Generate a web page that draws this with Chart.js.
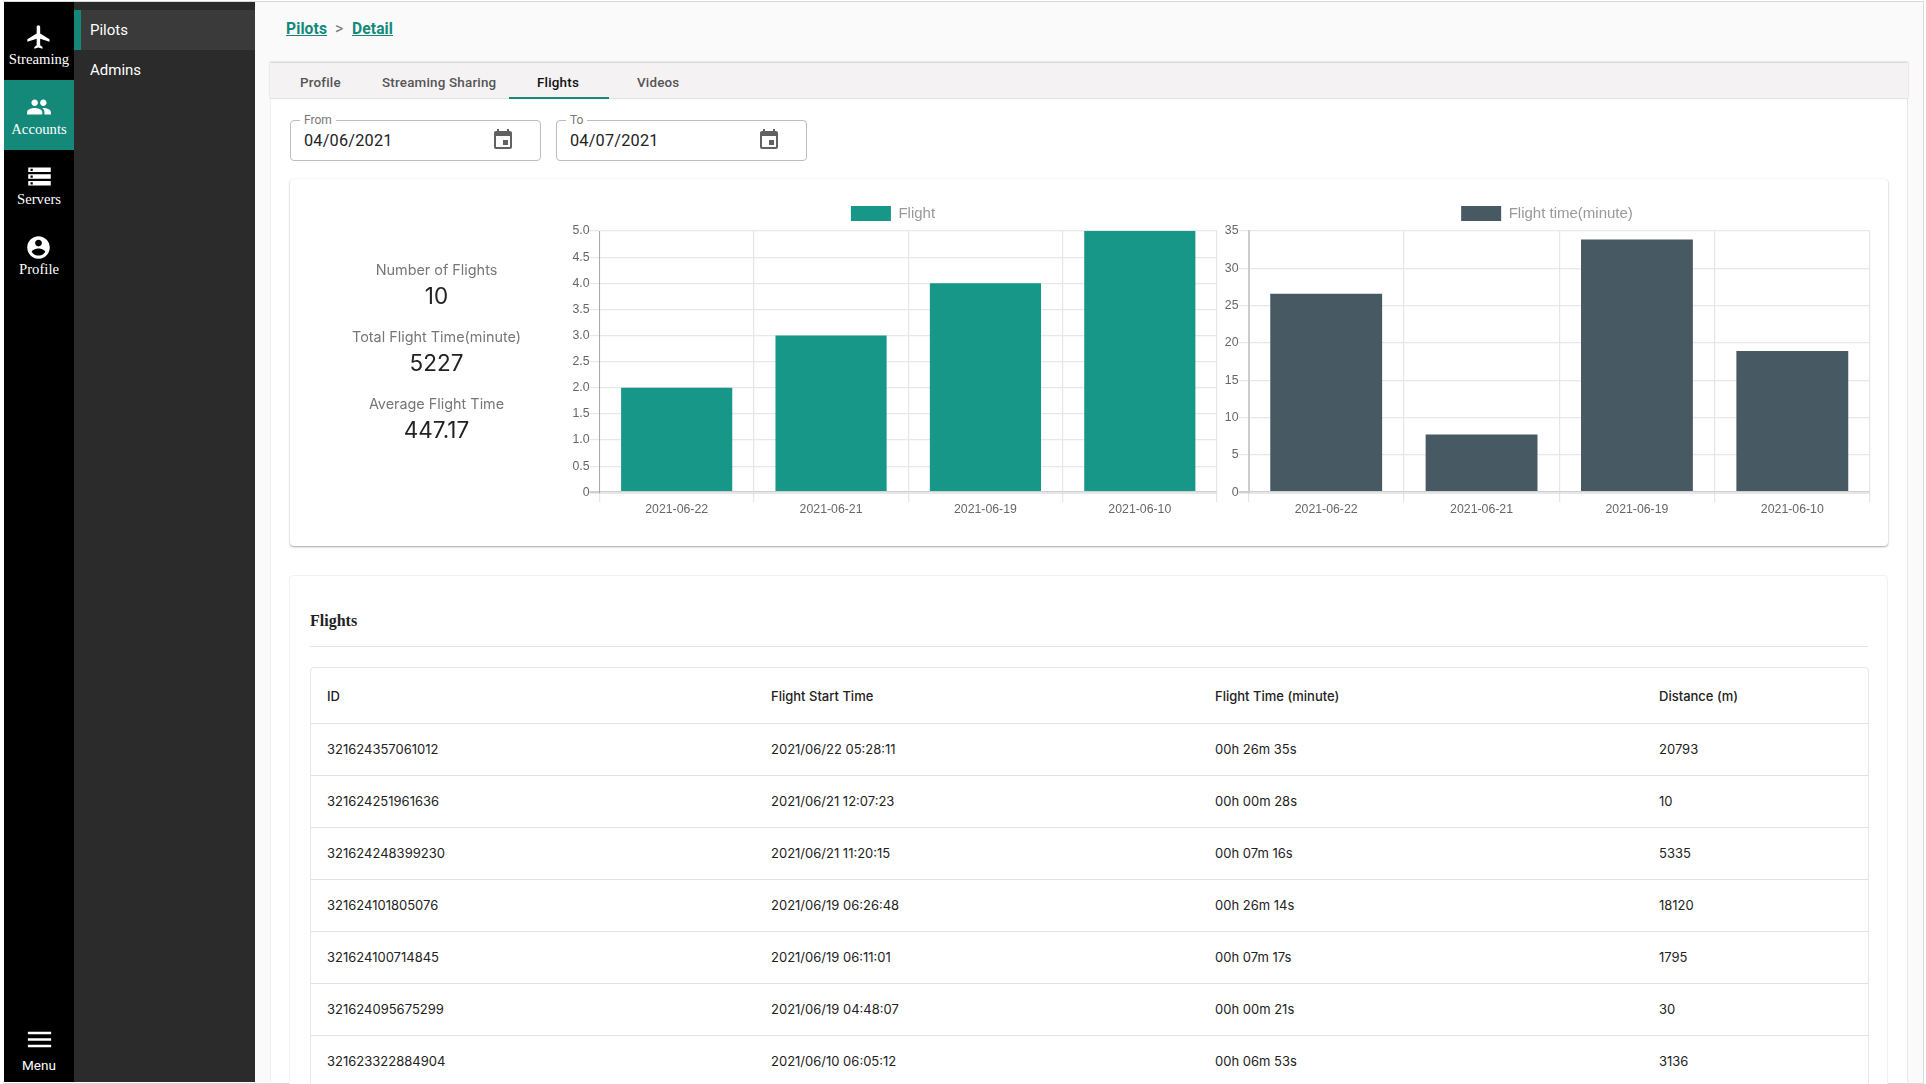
<!DOCTYPE html>
<html>
<head>
<meta charset="utf-8">
<title>Pilot flights</title>
<script src="https://cdn.jsdelivr.net/npm/chart.js@4"></script>
<style>
html, body { margin: 0; padding: 0; width: 1926px; height: 1084px; overflow: hidden; background: #fff; }
body { position: relative; font-family: Roboto, sans-serif; color: #222; }
.abs { position: absolute; white-space: nowrap; }
#page { position: absolute; left: 3px; top: 1px; width: 1920px; height: 1081px; background: #fafafa; border: 1px solid #d8d8d8; border-left: 0; }
#rail { position: absolute; left: 4px; top: 2px; width: 70px; height: 1080px; background: #000; }
#side { position: absolute; left: 74px; top: 2px; width: 181px; height: 1080px; background: #2b2b2b; }
#railActive { position: absolute; left: 4px; top: 80px; width: 70px; height: 70px; background: #14897a; }
#sideActive { position: absolute; left: 74px; top: 10px; width: 181px; height: 40px; background: #3a3a3a; }
#sideBar { position: absolute; left: 74px; top: 10px; width: 7px; height: 40px; background: #14897a; }
.railText { position: absolute; left: 4px; width: 70px; text-align: center; color: #fff; font: 14.7px "Liberation Serif", serif; line-height: 18px; }
.sideText { position: absolute; left: 90px; color: #fff; font: 15px Roboto, sans-serif; line-height: 20px; }
.icon { position: absolute; }
.crumb { color: #14897a; font: 700 15.6px Roboto, sans-serif; text-decoration: underline; line-height: 20px; letter-spacing: .1px; }
#tabbar { position: absolute; left: 270px; top: 63px; width: 1638px; height: 35px; background: #f4f2f3; border-bottom: 1px solid #e2e2e2; box-shadow: 0 -1px 2px rgba(0,0,0,.2); }
#panel { position: absolute; left: 270px; top: 99px; width: 1638px; height: 983px; background: #fff; border-right: 1px solid #e6e6e6; border-left: 1px solid #eee; box-sizing: border-box; }
.tab { font: 500 13.4px Roboto, sans-serif; color: #555; line-height: 18px; letter-spacing: .2px; }
#tabLine { position: absolute; left: 509px; top: 97px; width: 100px; height: 2px; background: #14897a; }
.field { position: absolute; top: 120px; height: 39px; width: 249px; border: 1px solid #bdbdbd; border-radius: 4px; background: #fff; }
.fieldLabel { background: #fff; padding: 0 4px; font: 12px Roboto, sans-serif; color: #777; line-height: 14px; }
.fieldValue { font: 16.3px Roboto, sans-serif; color: #222; line-height: 20px; letter-spacing: .2px; }
#card { position: absolute; left: 290px; top: 179px; width: 1598px; height: 367px; background: #fff; border-radius: 4px; box-shadow: 0 1px 2px rgba(0,0,0,.35), 0 0 2px rgba(0,0,0,.05); }
#card2 { position: absolute; left: 289px; top: 575px; width: 1599px; height: 520px; background: #fff; border: 1px solid #f2f2f2; border-radius: 4px; box-sizing: border-box; }
.statLabel { width: 300px; left: 286.5px; text-align: center; font: 14.4px Inter, sans-serif; color: #777; line-height: 20px; }
.statValue { width: 300px; left: 286.5px; text-align: center; font: 22.5px Inter, sans-serif; color: #222; line-height: 28px; }
#chartOne { position: absolute; left: 564px; top: 198px; }
#chartTwo { position: absolute; left: 1222px; top: 198px; }
#flightsTitle { left: 310px; top: 611px; font: 700 16px "Liberation Serif", serif; line-height: 20px; color: #222; }
#titleRule { position: absolute; left: 310px; top: 646px; width: 1558px; height: 1px; background: #e4e4e4; }
#tableBox { position: absolute; left: 310px; top: 667px; width: 1559px; height: 430px; border: 1px solid #e6e6e6; border-radius: 4px; box-sizing: border-box; }
.rowRule { position: absolute; left: 311px; width: 1557px; height: 1px; background: #e2e2e2; }
.cell { font: 13px Inter, sans-serif; color: #222; line-height: 18px; }
</style>
</head>
<body>
<div id="page"></div>
<div id="panel"></div>
<div id="tabbar"></div>
<div id="rail"></div>
<div id="side"></div>
<div id="railActive"></div>
<div id="sideActive"></div>
<div id="sideBar"></div>
<div id="card"></div>
<div id="card2"></div>
<div id="titleRule"></div>
<div id="tableBox"></div>
<canvas id="chartOne"></canvas>
<canvas id="chartTwo"></canvas>
<div id="texts"></div>

<script>
// chart data
const flightDates = ['2021-06-22', '2021-06-21', '2021-06-19', '2021-06-10'];
const flightCounts = [2, 3, 4, 5];
const flightMinutes = [26.58, 7.73, 33.87, 18.93];
const countTickLabels = ['0', '0.5', '1.0', '1.5', '2.0', '2.5', '3.0', '3.5', '4.0', '4.5', '5.0'];
const minuteTickLabels = ['0', '5', '10', '15', '20', '25', '30', '35'];

// table rows
const tableHeaders = ['ID', 'Flight Start Time', 'Flight Time (minute)', 'Distance (m)'];
const flightIds = ['321624357061012', '321624251961636', '321624248399230', '321624101805076', '321624100714845', '321624095675299', '321623322884904'];
const flightStarts = ['2021/06/22 05:28:11', '2021/06/21 12:07:23', '2021/06/21 11:20:15', '2021/06/19 06:26:48', '2021/06/19 06:11:01', '2021/06/19 04:48:07', '2021/06/10 06:05:12'];
const flightTimes = ['00h 26m 35s', '00h 00m 28s', '00h 07m 16s', '00h 26m 14s', '00h 07m 17s', '00h 00m 21s', '00h 06m 53s'];
const flightDistances = ['20793', '10', '5335', '18120', '1795', '30', '3136'];

const iconPaths = {
    flight: 'M21 16v-2l-8-5V3.5c0-.83-.67-1.5-1.5-1.5S10 2.67 10 3.5V9l-8 5v2l8-2.5V19l-2 1.5V22l3.5-1 3.5 1v-1.5L13 19v-5.5l8 2.5z',
    people: 'M16 11c1.66 0 2.99-1.34 2.99-3S17.66 5 16 5c-1.66 0-3 1.34-3 3s1.34 3 3 3zm-8 0c1.66 0 2.99-1.34 2.99-3S9.66 5 8 5C6.34 5 5 6.34 5 8s1.34 3 3 3zm0 2c-2.33 0-7 1.17-7 3.5V19h14v-2.5c0-2.33-4.67-3.5-7-3.5zm8 0c-.29 0-.62.02-.97.05 1.16.84 1.97 1.97 1.97 3.45V19h6v-2.5c0-2.33-4.67-3.5-7-3.5z',
    storage: 'M2 20h20v-4H2v4zm2-3h2v2H4v-2zM2 4v4h20V4H2zm4 3H4V5h2v2zm-4 7h20v-4H2v4zm2-3h2v2H4v-2z',
    account: 'M12 2C6.48 2 2 6.48 2 12s4.48 10 10 10 10-4.48 10-10S17.52 2 12 2zm0 3c1.66 0 3 1.34 3 3s-1.34 3-3 3-3-1.34-3-3 1.34-3 3-3zm0 14.2c-2.5 0-4.71-1.28-6-3.22.03-1.99 4-3.08 6-3.08 1.99 0 5.97 1.09 6 3.08-1.29 1.94-3.5 3.22-6 3.22z',
    menu: 'M3 18h18v-2H3v2zm0-5h18v-2H3v2zm0-7v2h18V6H3z',
    event: 'M17 12h-5v5h5v-5zM16 1v2H8V1H6v2H5c-1.11 0-1.99.9-1.99 2L3 19c0 1.1.89 2 2 2h14c1.1 0 2-.9 2-2V5c0-1.1-.9-2-2-2h-1V1h-2zm3 18H5V8h14v11z'
};

const texts = document.getElementById('texts');

function addText(cls, text, x, y, extra) {
    let el = document.createElement('div');
    el.className = 'abs ' + cls;
    el.textContent = text;
    if (x !== null) el.style.left = x + 'px';
    el.style.top = y + 'px';
    if (extra) el.style.cssText += extra;
    texts.appendChild(el);
}

function addIcon(name, cx, cy, size, color) {
    let el = document.createElement('div');
    el.className = 'icon';
    el.style.cssText = `left:${cx - size / 2}px;top:${cy - size / 2}px;width:${size}px;height:${size}px`;
    el.innerHTML = `<svg width="${size}" height="${size}" viewBox="0 0 24 24"><path fill="${color}" d="${iconPaths[name]}"/></svg>`;
    texts.appendChild(el);
}

// left rail
addIcon('flight', 38.5, 37, 28, '#fff');
addIcon('people', 39, 107, 26, '#fff');
addIcon('storage', 39, 176, 27, '#fff');
addIcon('account', 38.5, 247, 27, '#fff');
addIcon('menu', 39, 1039, 31, '#fff');
[['Streaming', 50], ['Accounts', 120], ['Servers', 190], ['Profile', 260]].forEach(r => addText('railText', r[0], null, r[1]));
addText('railText', 'Menu', null, 1057, 'font:13.5px Roboto,sans-serif');
addText('sideText', 'Pilots', null, 20);
addText('sideText', 'Admins', null, 60);

// breadcrumb
addText('crumb', 'Pilots', 286, 19);
addText('crumb', '>', 335, 19, 'color:#777;font-weight:400;text-decoration:none');
addText('crumb', 'Detail', 352, 19);

// tabs
addText('tab', 'Profile', 300, 74);
addText('tab', 'Streaming Sharing', 382, 74);
addText('tab', 'Flights', 537, 74, 'color:#111');
addText('tab', 'Videos', 637, 74);
document.getElementById('texts').insertAdjacentHTML('beforeend', '<div id="tabLine"></div>');

// date fields
[[290, 'From', '04/06/2021'], [556, 'To', '04/07/2021']].forEach(f => {
    let box = document.createElement('div');
    box.className = 'field';
    box.style.left = f[0] + 'px';
    texts.appendChild(box);
    addText('fieldLabel', f[1], f[0] + 10, 113);
    addText('fieldValue', f[2], f[0] + 14, 131);
    addIcon('event', f[0] + 213, 139.5, 24, '#616161');
});

// summary numbers
addText('statLabel', 'Number of Flights', null, 260);
addText('statValue', '10', null, 282);
addText('statLabel', 'Total Flight Time(minute)', null, 327);
addText('statValue', '5227', null, 349);
addText('statLabel', 'Average Flight Time', null, 394);
addText('statValue', '447.17', null, 416);

// flights table
addText('', 'Flights', null, 611);
texts.lastChild.id = 'flightsTitle';
const columnX = [327, 771, 1215, 1659];
tableHeaders.forEach((h, i) => addText('cell', h, columnX[i], 687, 'font-weight:500'));
flightIds.forEach((id, r) => {
    let top = 740 + r * 52;
    [id, flightStarts[r], flightTimes[r], flightDistances[r]].forEach((v, i) => addText('cell', v, columnX[i], top));
    let rule = document.createElement('div');
    rule.className = 'rowRule';
    rule.style.top = (723 + r * 52) + 'px';
    texts.appendChild(rule);
});

function buildChart(canvasId, w, label, values, color, tickLabels, step, maxValue, padLeft, axisWidth, axisColor, axisLine) {
    const canvas = document.getElementById(canvasId);
    canvas.width = w;
    canvas.height = 319;
    canvas.style.width = w + 'px';
    canvas.style.height = '319px';
    return new Chart(canvas, {
        type: 'bar',
        data: {
            labels: flightDates,
            datasets: [{
                label: label,
                data: values,
                backgroundColor: color,
                borderColor: color,
                borderWidth: 0
            }]
        },
        options: {
            responsive: false,
            animation: false,
            devicePixelRatio: 1,
            layout: { padding: { left: padLeft, right: 5, bottom: 0 } },
            plugins: {
                legend: {
                    labels: { boxWidth: 40, boxHeight: 15, color: '#999', padding: 8, font: { family: 'Liberation Sans', size: 15 } }
                },
                tooltip: { enabled: false }
            },
            scales: {
                x: {
                    grid: { color: '#e6e6e6', lineWidth: 1.2, tickLength: 10 },
                    border: { color: '#e6e6e6' },
                    ticks: { color: '#666', padding: 0, maxRotation: 0, font: { family: 'Liberation Sans', size: 12.3 } }
                },
                y: {
                    min: 0,
                    max: maxValue,
                    afterFit: scale => { scale.width = axisWidth; },
                    grid: {
                        color: ctx => ctx.tick && ctx.tick.value === 0 ? '#cfcfcf' : '#e8e8e8',
                        lineWidth: ctx => ctx.tick && ctx.tick.value === 0 ? 2.4 : 1.2,
                        tickLength: 10
                    },
                    border: { color: axisColor, width: axisLine },
                    ticks: {
                        stepSize: step,
                        color: '#666',
                        padding: 0,
                        font: { family: 'Liberation Sans', size: 12.3 },
                        callback: (value, index) => tickLabels[index]
                    }
                }
            }
        }
    });
}

buildChart('chartOne', 658, 'Flight', flightCounts, '#179788', countTickLabels, 0.5, 5, 5, 30.5, '#aaaaaa', 1);
buildChart('chartTwo', 653, 'Flight time(minute)', flightMinutes, '#475a64', minuteTickLabels, 5, 35, 2, 24.5, '#cccccc', 2);
</script>
</body>
</html>
